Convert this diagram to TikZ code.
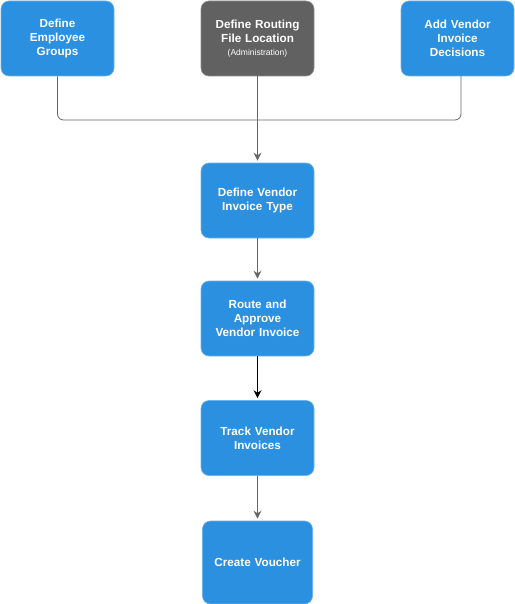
\documentclass[tikz,border=0pt]{standalone}
\usepackage{fontspec}
\setmainfont{Liberation Sans}
\usetikzlibrary{arrows.meta}
\definecolor{boxblue}{HTML}{2A90DF}
\definecolor{boxblueedge}{HTML}{6DB3EC}
\definecolor{boxgray}{HTML}{616161}
\definecolor{boxgrayedge}{HTML}{8A8A8A}
\definecolor{linegray}{HTML}{666666}
\tikzset{
  stepbox/.style={rectangle, rounded corners=8pt, draw=boxblueedge, fill=boxblue, line width=0.6pt,
    minimum width=113pt, minimum height=75pt, text width=108pt, align=center, text=white,
    font=\fontsize{11.7}{14}\selectfont\bfseries, inner sep=0pt},
  graybox/.style={stepbox, draw=boxgrayedge, fill=boxgray},
  conn/.style={draw=linegray, line width=0.8pt},
  arr/.style={conn, -{Stealth[length=8pt,width=8pt]}, shorten >=2pt},
}
\begin{document}
\begin{tikzpicture}[x=1pt,y=-1pt]
\useasboundingbox (0,0) rectangle (514,604);
\node[stepbox] (emp) at (57.5,38.5) {Define\\Employee\\Groups};
\node[graybox] (rout) at (257.5,38.5) {Define Routing\\File Location\\[-1pt]{\fontsize{8.5}{10}\selectfont\mdseries (Administration)}};
\node[stepbox] (dec) at (457.5,38.5) {Add Vendor\\Invoice\\Decisions};
\node[stepbox] (type) at (257.5,200.5) {Define Vendor\\Invoice Type};
\node[stepbox] (appr) at (257.5,318.5) {Route and\\Approve\\Vendor Invoice};
\node[stepbox] (track) at (257.5,438) {Track Vendor\\Invoices};
\node[stepbox, minimum width=110pt, minimum height=83pt] (vouch) at (257.5,562.5) {Create Voucher};
\coordinate (jl) at (57.5,120);
\coordinate (jr) at (461,120);
\draw[conn, rounded corners=6pt] (emp.south) -- (jl) -- (jr) -- (461,76);
\draw[arr] (rout.south) -- (type.north);
\draw[arr] (type.south) -- (appr.north);
\draw[arr, draw=black] (appr.south) -- (track.north);
\draw[arr] (track.south) -- (vouch.north);
\end{tikzpicture}
\end{document}
